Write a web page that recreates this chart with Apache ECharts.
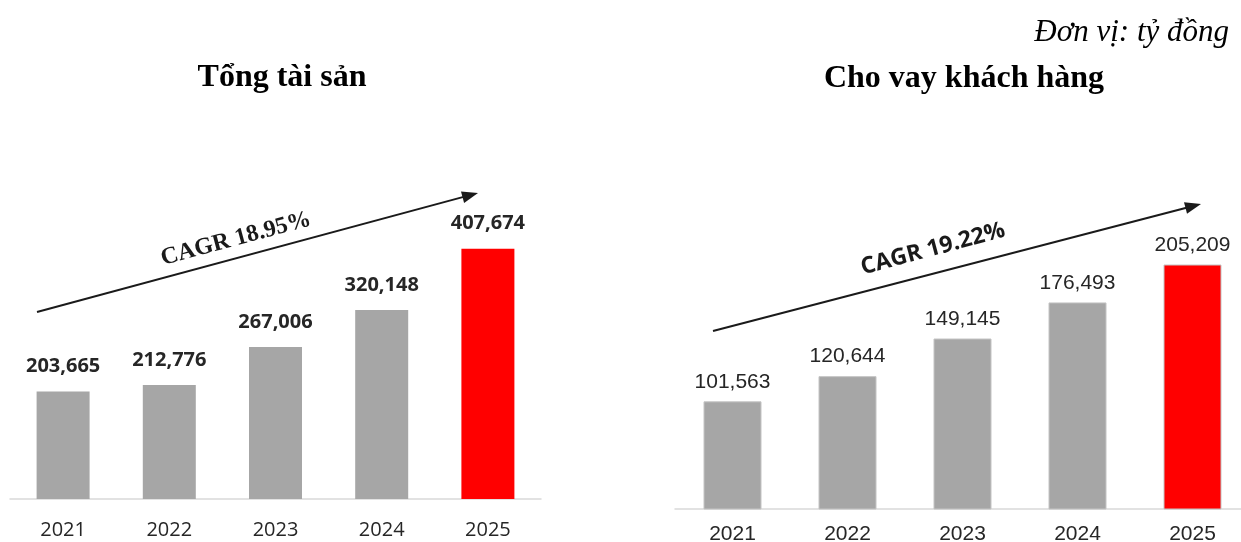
<!DOCTYPE html>
<html>
<head>
<meta charset="utf-8">
<script src="https://cdn.jsdelivr.net/npm/echarts@6/dist/echarts.min.js"></script>
<style>
  html, body { margin: 0; padding: 0; background: #ffffff; }
  #chart { width: 1241px; height: 542px; }
</style>
</head>
<body>
<div id="chart"></div>
<script>
// Years shown on both category axes
const years = ['2021', '2022', '2023', '2024', '2025'];
// Tổng tài sản (tỷ đồng)
const totalAssets = [203665, 212776, 267006, 320148, 407674];
// Cho vay khách hàng (tỷ đồng)
const customerLoans = [101563, 120644, 149145, 176493, 205209];
// Compound growth labels written along the trend arrows
const cagrAssets = 'CAGR 18.95%';
const cagrLoans = 'CAGR 19.22%';
const titleAssets = 'Tổng tài sản';
const titleLoans = 'Cho vay khách hàng';
const unitText = 'Đơn vị: tỷ đồng';

const GRAY = '#a6a6a6';
const RED = '#ff0000';
const TEXT = '#262626';

const fmt = v => v.toLocaleString('en-US');
const barColor = p => (p.dataIndex === years.length - 1 ? RED : GRAY);

// Arrow built from a shaft and a triangular head pointing at (x2, y2)
function arrow(x1, y1, x2, y2, headLen, headW) {
  const dx = x2 - x1, dy = y2 - y1;
  const len = Math.sqrt(dx * dx + dy * dy);
  const ux = dx / len, uy = dy / len;
  const bx = x2 - ux * headLen, by = y2 - uy * headLen;
  const px = -uy * headW / 2, py = ux * headW / 2;
  return [
    {
      type: 'line',
      shape: { x1: x1, y1: y1, x2: bx + ux * 2, y2: by + uy * 2 },
      style: { stroke: '#1a1a1a', lineWidth: 2 }
    },
    {
      type: 'polygon',
      shape: { points: [[x2, y2], [bx + px, by + py], [bx - px, by - py]] },
      style: { fill: '#1a1a1a' }
    }
  ];
}

const chart = echarts.init(document.getElementById('chart'), null, { renderer: 'canvas' });

const option = {
  animation: false,
  backgroundColor: '#ffffff',
  grid: [
    { left: 10, width: 531, top: 219, height: 280, outerBoundsMode: 'none' },
    { left: 675, width: 575, top: 245, height: 264, outerBoundsMode: 'none' }
  ],
  xAxis: [
    {
      type: 'category', gridIndex: 0, data: years,
      axisTick: { show: false },
      axisLine: { lineStyle: { color: '#d9d9d9', width: 1.5 } },
      axisLabel: { margin: 21, fontSize: 20, fontFamily: 'Open Sans', color: TEXT }
    },
    {
      type: 'category', gridIndex: 1, data: years,
      axisTick: { show: false },
      axisLine: { lineStyle: { color: '#d9d9d9', width: 1.5 } },
      axisLabel: { margin: 15, fontSize: 21, fontFamily: 'Liberation Sans', color: TEXT }
    }
  ],
  yAxis: [
    { type: 'value', gridIndex: 0, min: 50000, max: 450000, show: false, splitLine: { show: false } },
    { type: 'value', gridIndex: 1, min: 20000, max: 220000, show: false, splitLine: { show: false } }
  ],
  series: [
    {
      type: 'bar', xAxisIndex: 0, yAxisIndex: 0, data: totalAssets,
      barWidth: 53,
      itemStyle: { color: barColor },
      label: {
        show: true, position: 'top', distance: 15,
        formatter: p => fmt(p.value),
        fontSize: 20, fontWeight: 'bold', fontFamily: 'Open Sans', color: TEXT
      }
    },
    {
      type: 'bar', xAxisIndex: 1, yAxisIndex: 1, data: customerLoans,
      barWidth: 58,
      itemStyle: { color: barColor, borderColor: '#c4c4c4', borderWidth: 1 },
      label: {
        show: true, position: 'top', distance: 9,
        formatter: p => fmt(p.value),
        fontSize: 21, fontFamily: 'Liberation Sans', color: TEXT
      }
    }
  ],
  graphic: [
    {
      type: 'text', x: 1229, y: 33,
      style: {
        text: unitText, fill: '#000', textAlign: 'right', textVerticalAlign: 'middle',
        font: 'italic 31px "Liberation Serif"'
      }
    },
    {
      type: 'text', x: 282, y: 78,
      style: {
        text: titleAssets, fill: '#000', textAlign: 'center', textVerticalAlign: 'middle',
        font: 'bold 32px "Liberation Serif"'
      }
    },
    {
      type: 'text', x: 964, y: 79,
      style: {
        text: titleLoans, fill: '#000', textAlign: 'center', textVerticalAlign: 'middle',
        font: 'bold 32px "Liberation Serif"'
      }
    },
    ...arrow(37, 312, 478, 193, 16, 12),
    ...arrow(713, 331, 1201, 204, 16, 12),
    {
      type: 'text', x: 236, y: 239, rotation: 15 * Math.PI / 180,
      style: {
        text: cagrAssets, fill: '#1a1a1a', textAlign: 'center', textVerticalAlign: 'middle',
        font: 'bold 24px "Liberation Serif"'
      }
    },
    {
      type: 'text', x: 933, y: 249, rotation: 15 * Math.PI / 180,
      style: {
        text: cagrLoans, fill: '#1a1a1a', textAlign: 'center', textVerticalAlign: 'middle',
        font: 'bold 23px "Open Sans"'
      }
    }
  ]
};

chart.setOption(option);
</script>
</body>
</html>
